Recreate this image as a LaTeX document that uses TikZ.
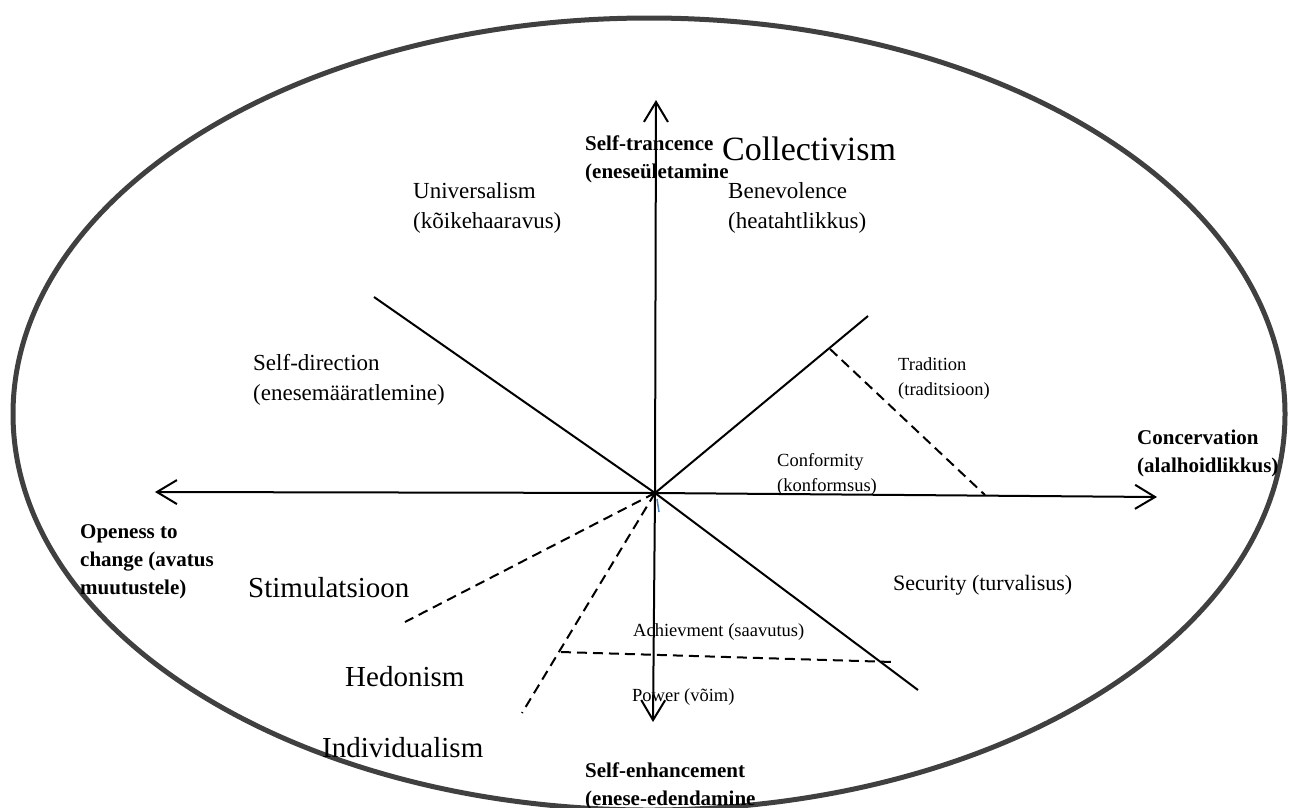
\documentclass[tikz,border=0pt]{standalone}
\usepackage{fontspec}
\setmainfont{Liberation Serif}
\usetikzlibrary{positioning,arrows.meta}

\tikzset{
  axis/.style={line width=2pt,-{Straight Barb[length=20pt,width=24pt,line width=2pt]}},
  divider/.style={line width=2pt},
  border/.style={line width=2pt,dash pattern=on 10pt off 6pt},
  lbl/.style={inner sep=0pt,anchor=base west,align=left},
  big/.style={lbl,font=\fontsize{29}{35}\selectfont},
  mid/.style={lbl,font=\fontsize{23}{30}\selectfont},
  small/.style={lbl,font=\fontsize{18.5}{25}\selectfont},
  head/.style={lbl,font=\bfseries\fontsize{21}{28}\selectfont},
}

\begin{document}
\begin{tikzpicture}[x=1pt,y=-1pt]
    \useasboundingbox (0,0) rectangle (1289,807);
    \draw[line width=5pt,draw=black!75] (649,414) ellipse [x radius=636,y radius=396];

    % axes and sectors
    \coordinate (O) at (655,493);
    \coordinate (top) at (656,100);
    \coordinate (bottom) at (653,722);
    \coordinate (left) at (155,492);
    \coordinate (right) at (1157,497);
    \coordinate (ul) at (374,297);
    \coordinate (ur) at (868,316);
    \coordinate (lr) at (918,690);
    \coordinate (tradA) at (830,349);
    \coordinate (tradB) at (985,495);
    \coordinate (stimEnd) at (405,622);
    \coordinate (hedEnd) at (522,713);
    \coordinate (achA) at (561,652);
    \coordinate (achB) at (893,662);

    \draw[axis] (O) -- (top);
    \draw[axis] (O) -- (bottom);
    \draw[axis] (O) -- (left);
    \draw[axis] (O) -- (right);
    \draw[divider] (ul) -- (O) -- (lr);
    \draw[divider] (O) -- (ur);
    \draw[border] (tradA) -- (tradB);
    \draw[border] (O) -- (stimEnd);
    \draw[border] (O) -- (hedEnd);
    \draw[border] (achA) -- (achB);
    \draw[line width=1.5pt,draw={rgb,255:red,74;green,126;blue,187}] (657,499) -- (659,512);

    % labels (base = last line)
    \node[head] (selftr) at (585,178) {Self-trancence\\(eneseületamine};
    \node[lbl,font=\fontsize{34}{40}\selectfont] (coll) at (722,160) {Collectivism};
    \node[mid] (univ) at (413,228) {Universalism\\(kõikehaaravus)};
    \node[mid] (bene) at (728,228) {Benevolence\\(heatahtlikkus)};
    \node[mid] (selfdir) at (253,400) {Self-direction\\(enesemääratlemine)};
    \node[small] (trad) at (898,395) {Tradition\\(traditsioon)};
    \node[small] (conf) at (777,491) {Conformity\\(konformsus)};
    \node[head] (conc) at (1137,472) {Concervation\\(alalhoidlikkus)};
    \node[head] (open) at (80,594) {Openess to\\change (avatus\\muutustele)};
    \node[big] (stim) at (248,597) {Stimulatsioon};
    \node[lbl,font=\fontsize{22}{28}\selectfont] (secu) at (893,590) {Security (turvalisus)};
    \node[small] (achi) at (633,636) {Achievment (saavutus)};
    \node[big] (hedo) at (345,686) {Hedonism};
    \node[small] (powe) at (632,701) {Power (võim)};
    \node[big] (indi) at (322,757) {Individualism};
    \node[head] (selfen) at (585,805) {Self-enhancement\\(enese-edendamine};
\end{tikzpicture}
\end{document}
